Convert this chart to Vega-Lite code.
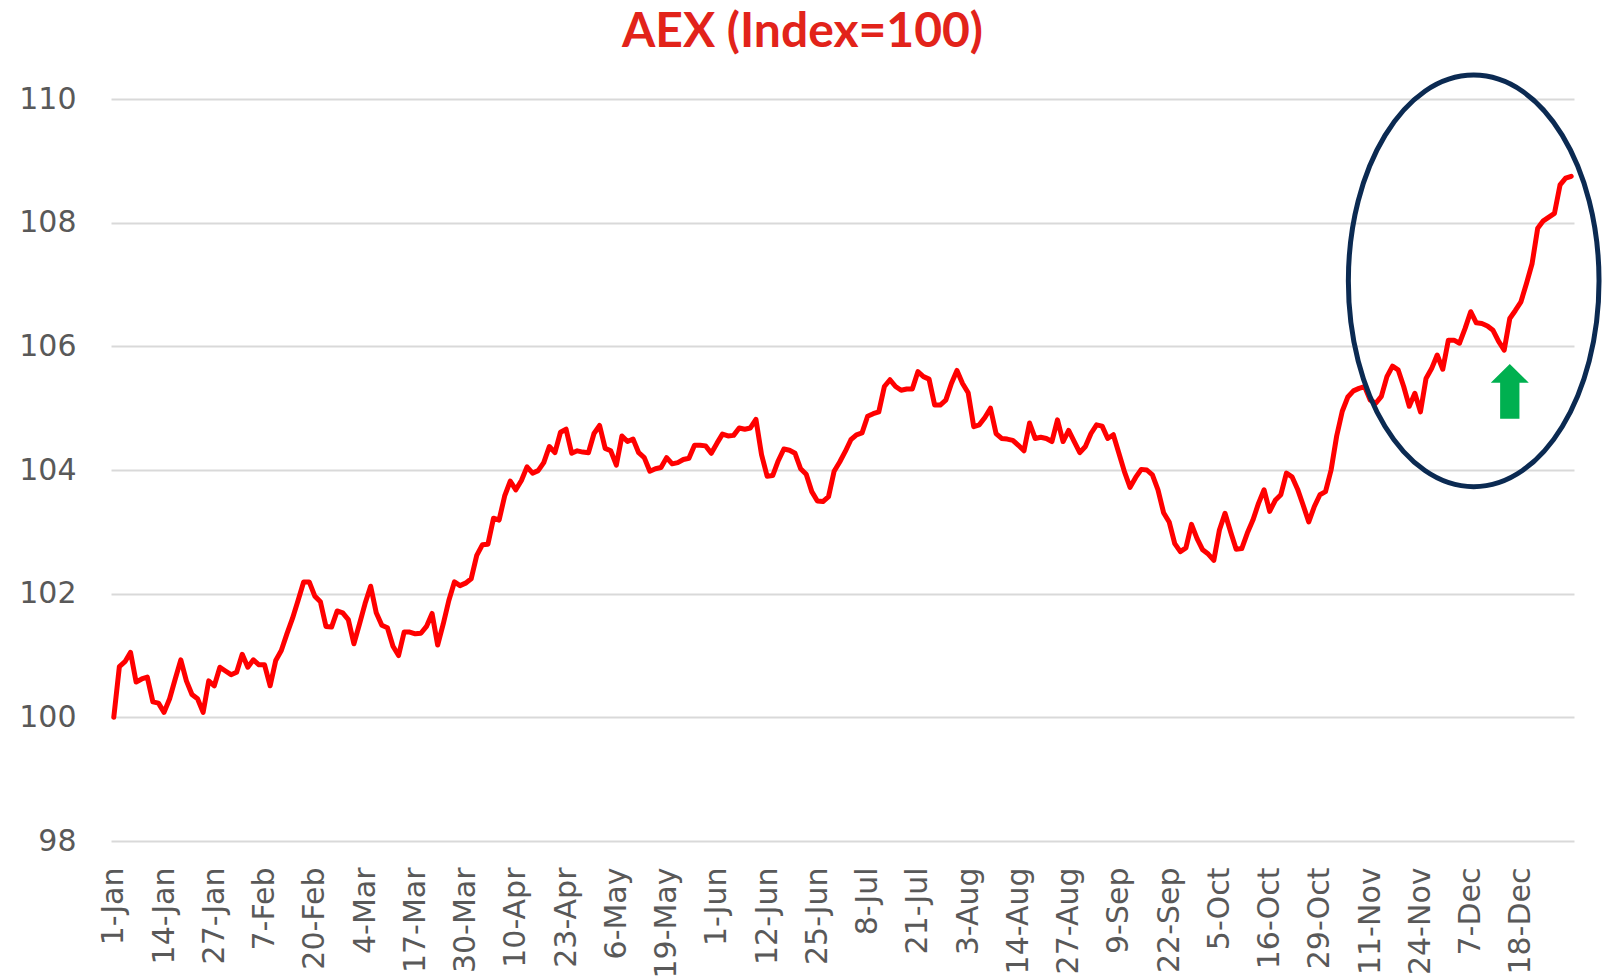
{
  "$schema": "https://vega.github.io/schema/vega-lite/v6.json",
  "width": 1463,
  "height": 742,
  "autosize": {"type": "none"},
  "padding": {"left": 111, "top": 99, "right": 29, "bottom": 138},
  "background": "white",
  "config": {"view": {"stroke": null}},
  "title": {
    "text": "AEX (Index=100)",
    "font": "Lato",
    "fontSize": 48,
    "fontWeight": "bold",
    "color": "#E2231A",
    "anchor": "middle",
    "frame": "group",
    "dx": -40,
    "offset": 8
  },
  "layer": [
    {
      "data": {"values": [
        {"d":"1-Jan","v":100.0},{"d":"2-Jan","v":100.82},{"d":"3-Jan","v":100.9},{"d":"6-Jan","v":101.05},{"d":"7-Jan","v":100.57},{"d":"8-Jan","v":100.62},{"d":"9-Jan","v":100.65},{"d":"10-Jan","v":100.25},{"d":"13-Jan","v":100.23},{"d":"14-Jan","v":100.08},
        {"d":"15-Jan","v":100.3},{"d":"16-Jan","v":100.62},{"d":"17-Jan","v":100.93},{"d":"20-Jan","v":100.59},{"d":"21-Jan","v":100.37},{"d":"22-Jan","v":100.3},{"d":"23-Jan","v":100.08},{"d":"24-Jan","v":100.59},{"d":"27-Jan","v":100.51},{"d":"28-Jan","v":100.81},
        {"d":"29-Jan","v":100.75},{"d":"30-Jan","v":100.69},{"d":"31-Jan","v":100.73},{"d":"3-Feb","v":101.02},{"d":"4-Feb","v":100.81},{"d":"5-Feb","v":100.93},{"d":"6-Feb","v":100.85},{"d":"7-Feb","v":100.85},{"d":"10-Feb","v":100.51},{"d":"11-Feb","v":100.92},
        {"d":"12-Feb","v":101.08},{"d":"13-Feb","v":101.35},{"d":"14-Feb","v":101.6},{"d":"17-Feb","v":101.89},{"d":"18-Feb","v":102.19},{"d":"19-Feb","v":102.19},{"d":"20-Feb","v":101.96},{"d":"21-Feb","v":101.87},{"d":"24-Feb","v":101.47},{"d":"25-Feb","v":101.46},
        {"d":"26-Feb","v":101.72},{"d":"27-Feb","v":101.69},{"d":"28-Feb","v":101.58},{"d":"2-Mar","v":101.19},{"d":"3-Mar","v":101.51},{"d":"4-Mar","v":101.84},{"d":"5-Mar","v":102.12},{"d":"6-Mar","v":101.69},{"d":"9-Mar","v":101.49},{"d":"10-Mar","v":101.45},
        {"d":"11-Mar","v":101.15},{"d":"12-Mar","v":101.0},{"d":"13-Mar","v":101.38},{"d":"16-Mar","v":101.38},{"d":"17-Mar","v":101.35},{"d":"18-Mar","v":101.36},{"d":"19-Mar","v":101.47},{"d":"20-Mar","v":101.68},{"d":"23-Mar","v":101.17},{"d":"24-Mar","v":101.51},
        {"d":"25-Mar","v":101.89},{"d":"26-Mar","v":102.19},{"d":"27-Mar","v":102.13},{"d":"30-Mar","v":102.17},{"d":"31-Mar","v":102.24},{"d":"1-Apr","v":102.62},{"d":"2-Apr","v":102.79},{"d":"3-Apr","v":102.8},{"d":"6-Apr","v":103.22},{"d":"7-Apr","v":103.19},
        {"d":"8-Apr","v":103.58},{"d":"9-Apr","v":103.82},{"d":"10-Apr","v":103.68},{"d":"13-Apr","v":103.83},{"d":"14-Apr","v":104.05},{"d":"15-Apr","v":103.95},{"d":"16-Apr","v":103.99},{"d":"17-Apr","v":104.12},{"d":"20-Apr","v":104.38},{"d":"21-Apr","v":104.28},
        {"d":"22-Apr","v":104.61},{"d":"23-Apr","v":104.66},{"d":"24-Apr","v":104.27},{"d":"27-Apr","v":104.31},{"d":"28-Apr","v":104.29},{"d":"29-Apr","v":104.28},{"d":"30-Apr","v":104.59},{"d":"1-May","v":104.72},{"d":"4-May","v":104.35},{"d":"5-May","v":104.31},
        {"d":"6-May","v":104.08},{"d":"7-May","v":104.55},{"d":"8-May","v":104.46},{"d":"11-May","v":104.5},{"d":"12-May","v":104.28},{"d":"13-May","v":104.2},{"d":"14-May","v":103.98},{"d":"15-May","v":104.02},{"d":"18-May","v":104.04},{"d":"19-May","v":104.2},
        {"d":"20-May","v":104.1},{"d":"21-May","v":104.12},{"d":"22-May","v":104.17},{"d":"25-May","v":104.19},{"d":"26-May","v":104.4},{"d":"27-May","v":104.4},{"d":"28-May","v":104.39},{"d":"29-May","v":104.27},{"d":"1-Jun","v":104.43},{"d":"2-Jun","v":104.58},
        {"d":"3-Jun","v":104.55},{"d":"4-Jun","v":104.56},{"d":"5-Jun","v":104.68},{"d":"8-Jun","v":104.66},{"d":"9-Jun","v":104.68},{"d":"10-Jun","v":104.82},{"d":"11-Jun","v":104.25},{"d":"12-Jun","v":103.9},{"d":"15-Jun","v":103.91},{"d":"16-Jun","v":104.15},
        {"d":"17-Jun","v":104.34},{"d":"18-Jun","v":104.32},{"d":"19-Jun","v":104.27},{"d":"22-Jun","v":104.02},{"d":"23-Jun","v":103.93},{"d":"24-Jun","v":103.65},{"d":"25-Jun","v":103.5},{"d":"26-Jun","v":103.49},{"d":"29-Jun","v":103.57},{"d":"30-Jun","v":103.98},
        {"d":"1-Jul","v":104.13},{"d":"2-Jul","v":104.3},{"d":"3-Jul","v":104.49},{"d":"6-Jul","v":104.57},{"d":"7-Jul","v":104.6},{"d":"8-Jul","v":104.87},{"d":"9-Jul","v":104.91},{"d":"10-Jul","v":104.94},{"d":"13-Jul","v":105.35},{"d":"14-Jul","v":105.46},
        {"d":"15-Jul","v":105.35},{"d":"16-Jul","v":105.29},{"d":"17-Jul","v":105.31},{"d":"20-Jul","v":105.31},{"d":"21-Jul","v":105.59},{"d":"22-Jul","v":105.51},{"d":"23-Jul","v":105.47},{"d":"24-Jul","v":105.05},{"d":"27-Jul","v":105.05},{"d":"28-Jul","v":105.13},
        {"d":"29-Jul","v":105.4},{"d":"30-Jul","v":105.61},{"d":"31-Jul","v":105.4},{"d":"3-Aug","v":105.25},{"d":"4-Aug","v":104.7},{"d":"5-Aug","v":104.73},{"d":"6-Aug","v":104.85},{"d":"7-Aug","v":105.0},{"d":"10-Aug","v":104.59},{"d":"11-Aug","v":104.51},
        {"d":"12-Aug","v":104.5},{"d":"13-Aug","v":104.48},{"d":"14-Aug","v":104.4},{"d":"17-Aug","v":104.31},{"d":"18-Aug","v":104.76},{"d":"19-Aug","v":104.51},{"d":"20-Aug","v":104.53},{"d":"21-Aug","v":104.51},{"d":"24-Aug","v":104.46},{"d":"25-Aug","v":104.81},
        {"d":"26-Aug","v":104.46},{"d":"27-Aug","v":104.64},{"d":"28-Aug","v":104.46},{"d":"31-Aug","v":104.28},{"d":"1-Sep","v":104.38},{"d":"2-Sep","v":104.59},{"d":"3-Sep","v":104.73},{"d":"4-Sep","v":104.71},{"d":"7-Sep","v":104.51},{"d":"8-Sep","v":104.57},
        {"d":"9-Sep","v":104.27},{"d":"10-Sep","v":103.97},{"d":"11-Sep","v":103.72},{"d":"14-Sep","v":103.88},{"d":"15-Sep","v":104.01},{"d":"16-Sep","v":104.0},{"d":"17-Sep","v":103.92},{"d":"18-Sep","v":103.68},{"d":"21-Sep","v":103.31},{"d":"22-Sep","v":103.16},
        {"d":"23-Sep","v":102.81},{"d":"24-Sep","v":102.68},{"d":"25-Sep","v":102.74},{"d":"28-Sep","v":103.12},{"d":"29-Sep","v":102.89},{"d":"30-Sep","v":102.71},{"d":"1-Oct","v":102.64},{"d":"2-Oct","v":102.54},{"d":"5-Oct","v":103.03},{"d":"6-Oct","v":103.3},
        {"d":"7-Oct","v":103.0},{"d":"8-Oct","v":102.72},{"d":"9-Oct","v":102.73},{"d":"12-Oct","v":102.98},{"d":"13-Oct","v":103.19},{"d":"14-Oct","v":103.46},{"d":"15-Oct","v":103.68},{"d":"16-Oct","v":103.33},{"d":"19-Oct","v":103.51},{"d":"20-Oct","v":103.6},
        {"d":"21-Oct","v":103.95},{"d":"22-Oct","v":103.89},{"d":"23-Oct","v":103.69},{"d":"26-Oct","v":103.43},{"d":"27-Oct","v":103.16},{"d":"28-Oct","v":103.41},{"d":"29-Oct","v":103.6},{"d":"30-Oct","v":103.65},{"d":"2-Nov","v":104.0},{"d":"3-Nov","v":104.55},
        {"d":"4-Nov","v":104.95},{"d":"5-Nov","v":105.18},{"d":"6-Nov","v":105.28},{"d":"9-Nov","v":105.32},{"d":"10-Nov","v":105.35},{"d":"11-Nov","v":105.13},{"d":"12-Nov","v":105.08},{"d":"13-Nov","v":105.19},{"d":"16-Nov","v":105.51},{"d":"17-Nov","v":105.68},
        {"d":"18-Nov","v":105.62},{"d":"19-Nov","v":105.35},{"d":"20-Nov","v":105.03},{"d":"23-Nov","v":105.24},{"d":"24-Nov","v":104.94},{"d":"25-Nov","v":105.48},{"d":"26-Nov","v":105.64},{"d":"27-Nov","v":105.86},{"d":"30-Nov","v":105.63},{"d":"1-Dec","v":106.1},
        {"d":"2-Dec","v":106.1},{"d":"3-Dec","v":106.05},{"d":"4-Dec","v":106.29},{"d":"7-Dec","v":106.56},{"d":"8-Dec","v":106.38},{"d":"9-Dec","v":106.37},{"d":"10-Dec","v":106.33},{"d":"11-Dec","v":106.26},{"d":"14-Dec","v":106.08},{"d":"15-Dec","v":105.94},
        {"d":"16-Dec","v":106.45},{"d":"17-Dec","v":106.58},{"d":"18-Dec","v":106.72},{"d":"21-Dec","v":107.02},{"d":"22-Dec","v":107.34},{"d":"23-Dec","v":107.91},{"d":"24-Dec","v":108.03},{"d":"25-Dec","v":108.09},{"d":"28-Dec","v":108.15},{"d":"29-Dec","v":108.61},
        {"d":"30-Dec","v":108.72},{"d":"31-Dec","v":108.75}
      ]},
      "mark": {"type": "line", "color": "#FF0000", "strokeWidth": 5, "strokeJoin": "round", "strokeCap": "round"},
      "encoding": {
        "x": {
          "field": "d", "type": "ordinal", "sort": null,
          "scale": {"type": "point", "padding": 0.5},
          "title": null,
          "axis": {
            "values": ["1-Jan","14-Jan","27-Jan","7-Feb","20-Feb","4-Mar","17-Mar","30-Mar","10-Apr","23-Apr","6-May","19-May","1-Jun","12-Jun","25-Jun","8-Jul","21-Jul","3-Aug","14-Aug","27-Aug","9-Sep","22-Sep","5-Oct","16-Oct","29-Oct","11-Nov","24-Nov","7-Dec","18-Dec"],
            "labelAngle": -90,
            "labelAlign": "right",
            "labelBaseline": "middle",
            "labelPadding": 26,
            "labelFont": "DejaVu Sans",
            "labelFontSize": 30,
            "labelColor": "#595959",
            "labelOverlap": false,
            "ticks": false,
            "domain": false,
            "grid": false
          }
        },
        "y": {
          "field": "v", "type": "quantitative",
          "scale": {"domain": [98, 110], "nice": false, "zero": false},
          "title": null,
          "axis": {
            "values": [98, 100, 102, 104, 106, 108, 110],
            "format": "d",
            "labelFont": "DejaVu Sans",
            "labelFontSize": 30,
            "labelColor": "#595959",
            "labelPadding": 35,
            "ticks": false,
            "domain": false,
            "grid": true,
            "gridColor": "#D9D9D9",
            "gridWidth": 2
          }
        }
      }
    },
    {
      "data": {"values": [{"d": "8-Dec", "v": 107.058}]},
      "mark": {
        "type": "point",
        "shape": "M0.5964,0C0.5964,0.5523 0.3237,1 -0.0126,1C-0.3489,1 -0.6216,0.5523 -0.6216,0C-0.6216,-0.5523 -0.3489,-1 -0.0126,-1C0.3237,-1 0.5964,-0.5523 0.5964,0Z",
        "size": 169414,
        "filled": false,
        "stroke": "#0B2A52",
        "strokeWidth": 5,
        "opacity": 1
      },
      "encoding": {
        "x": {"field": "d", "type": "ordinal", "sort": null},
        "y": {"field": "v", "type": "quantitative"}
      }
    },
    {
      "data": {"values": [{"d": "16-Dec", "v": 105.27}]},
      "mark": {
        "type": "point",
        "shape": "M0,-1L0.695,-0.316L0.353,-0.316L0.353,1L-0.353,1L-0.353,-0.316L-0.695,-0.316Z",
        "size": 2992,
        "filled": true,
        "fill": "#00B050",
        "strokeWidth": 0,
        "opacity": 1
      },
      "encoding": {
        "x": {"field": "d", "type": "ordinal", "sort": null},
        "y": {"field": "v", "type": "quantitative"}
      }
    }
  ]
}
